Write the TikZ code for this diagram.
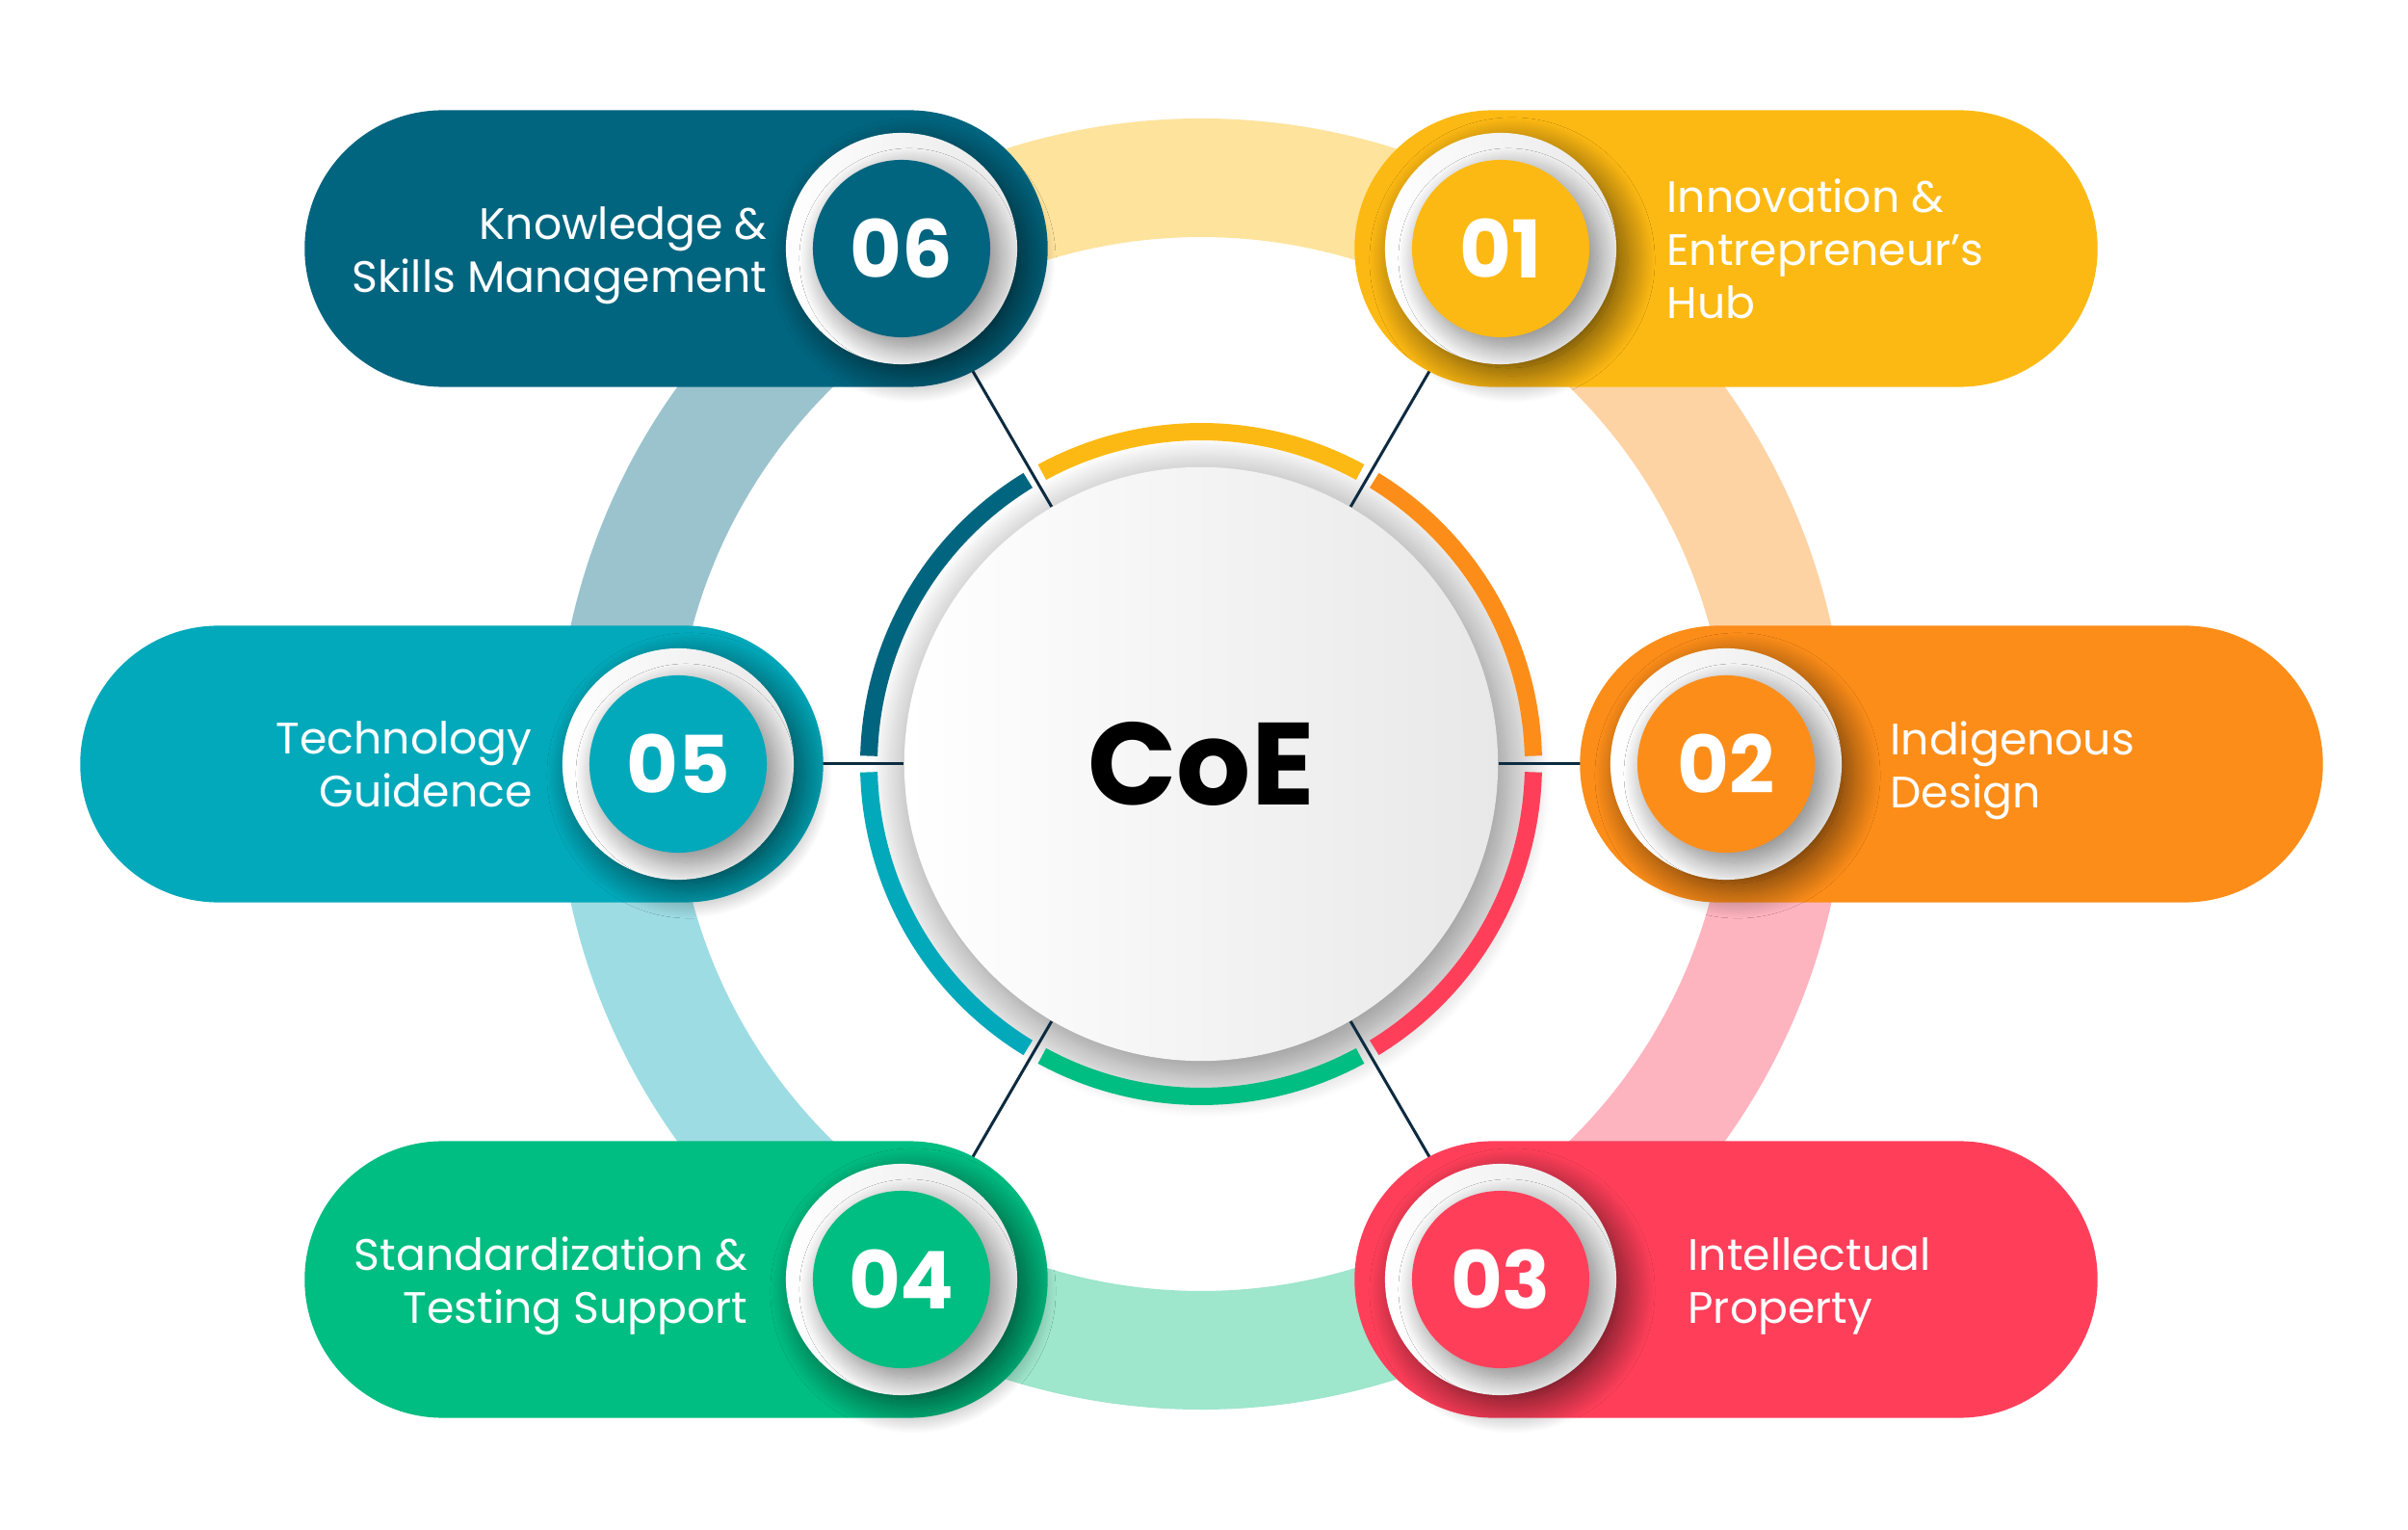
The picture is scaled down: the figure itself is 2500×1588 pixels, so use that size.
\documentclass[tikz,border=0pt]{standalone}
\usepackage{fontspec}
\setmainfont{Poppins}
\usepackage{tikz}
\usetikzlibrary{positioning,shapes.misc,shadows.blur}
\usepackage{xcolor}

\definecolor{c01}{HTML}{FDB913}
\definecolor{c02}{HTML}{FC8D19}
\definecolor{c03}{HTML}{FF3F5A}
\definecolor{c04}{HTML}{00BD81}
\definecolor{c05}{HTML}{02A9BB}
\definecolor{c06}{HTML}{02657F}
\definecolor{p01}{HTML}{FEE39C}
\definecolor{p02}{HTML}{FED3A4}
\definecolor{p03}{HTML}{FEB4BF}
\definecolor{p04}{HTML}{9EE6CC}
\definecolor{p05}{HTML}{9DDCE3}
\definecolor{p06}{HTML}{9BC3CE}
\definecolor{spokecol}{HTML}{0D2B40}

\pgfdeclarelayer{front}
\pgfsetlayers{main,front}

\begin{document}
\begin{tikzpicture}[x=0.01cm,y=0.01cm,
  bandseg/.style={line width=1.23cm, draw=#1},
  arcseg/.style={line width=0.18cm, draw=#1},
  spoke/.style={line width=0.03cm, draw=spokecol},
  pill/.style={rounded rectangle, minimum width=7.71cm, minimum height=2.87cm, inner sep=0pt, fill=#1},
  ringdot/.style={circle, minimum size=2.4cm, inner sep=0pt, left color=white, right color=black!9,
    blur shadow={shadow xshift=0.12cm, shadow yshift=-0.12cm, shadow blur radius=0.28cm, shadow blur steps=30, shadow opacity=55}},
  numdot/.style={circle, minimum size=1.84cm, inner sep=0pt, fill=#1, text=white,
    font=\fontsize{23.5}{24}\selectfont\bfseries,
    blur shadow={shadow xshift=0.08cm, shadow yshift=-0.1cm, shadow blur radius=0.22cm, shadow blur steps=30, shadow opacity=45}},
  itemtext/.style={text=white, inner sep=0pt, font=\fontsize{13}{15.6}\selectfont}]

\useasboundingbox (-1247,-795) rectangle (1253,793);

%%%PALE OUTER RING
\draw[bandseg=p01] (60:608.5) arc (60:120:608.5);
\draw[bandseg=p02] (0:608.5) arc (0:60:608.5);
\draw[bandseg=p03] (-60:608.5) arc (-60:0:608.5);
\draw[bandseg=p04] (-120:608.5) arc (-120:-60:608.5);
\draw[bandseg=p05] (180:608.5) arc (180:240:608.5);
\draw[bandseg=p06] (120:608.5) arc (120:180:608.5);

%%%CENTRE
\node[circle, minimum size=6.16cm, inner sep=0pt, left color=white, right color=black!9,
  blur shadow={shadow xshift=0.1cm, shadow yshift=-0.14cm, shadow blur radius=0.45cm, shadow blur steps=30, shadow opacity=50},
  font=\fontsize{34.5}{36}\selectfont\bfseries] (coe) at (0,0) {CoE};

%%%COLOURED ARCS
\draw[arcseg=c01] (61.4:345) arc (61.4:118.6:345);
\draw[arcseg=c02] (1.4:345) arc (1.4:58.6:345);
\draw[arcseg=c03] (-58.6:345) arc (-58.6:-1.4:345);
\draw[arcseg=c04] (-118.6:345) arc (-118.6:-61.4:345);
\draw[arcseg=c05] (181.4:345) arc (181.4:238.6:345);
\draw[arcseg=c06] (121.4:345) arc (121.4:178.6:345);

%%%ITEMS
\begin{pgfonlayer}{front}
\node[pill=c01] (pill01) at (545,535) {};
\node[pill=c02] (pill02) at (779,0) {};
\node[pill=c03] (pill03) at (545,-535) {};
\node[pill=c04] (pill04) at (-545,-535) {};
\node[pill=c05] (pill05) at (-778,0) {};
\node[pill=c06] (pill06) at (-545,535) {};

\node[ringdot] (ring01) at (311,535) {};
\node[ringdot] (ring02) at (545,0) {};
\node[ringdot] (ring03) at (311,-535) {};
\node[ringdot] (ring04) at (-311,-535) {};
\node[ringdot] (ring05) at (-543,0) {};
\node[ringdot] (ring06) at (-311,535) {};

\node[numdot=c01] (num01) at (ring01) {01};
\node[numdot=c02] (num02) at (ring02) {02};
\node[numdot=c03] (num03) at (ring03) {03};
\node[numdot=c04] (num04) at (ring04) {04};
\node[numdot=c05] (num05) at (ring05) {05};
\node[numdot=c06] (num06) at (ring06) {06};

\node[itemtext, align=left, right=0.51cm of ring01] (text01) {Innovation \&\\Entrepreneur’s\\Hub};
\node[itemtext, align=left, right=0.49cm of ring02, yshift=-0.07cm] (text02) {Indigenous\\Design};
\node[itemtext, align=left, right=0.73cm of ring03, yshift=-0.07cm] (text03) {Intellectual\\Property};
\node[itemtext, align=right, left=0.38cm of ring04, yshift=-0.07cm] (text04) {Standardization \&\\Testing Support};
\node[itemtext, align=right, left=0.30cm of ring05] (text05) {Technology\\Guidence};
\node[itemtext, align=right, left=0.18cm of ring06, yshift=-0.07cm] (text06) {Knowledge \&\\Skills Management};
\end{pgfonlayer}

%%%SPOKES
\draw[spoke] (coe) -- (ring01);
\draw[spoke] (coe) -- (ring02);
\draw[spoke] (coe) -- (ring03);
\draw[spoke] (coe) -- (ring04);
\draw[spoke] (coe) -- (ring05);
\draw[spoke] (coe) -- (ring06);
\end{tikzpicture}
\end{document}
